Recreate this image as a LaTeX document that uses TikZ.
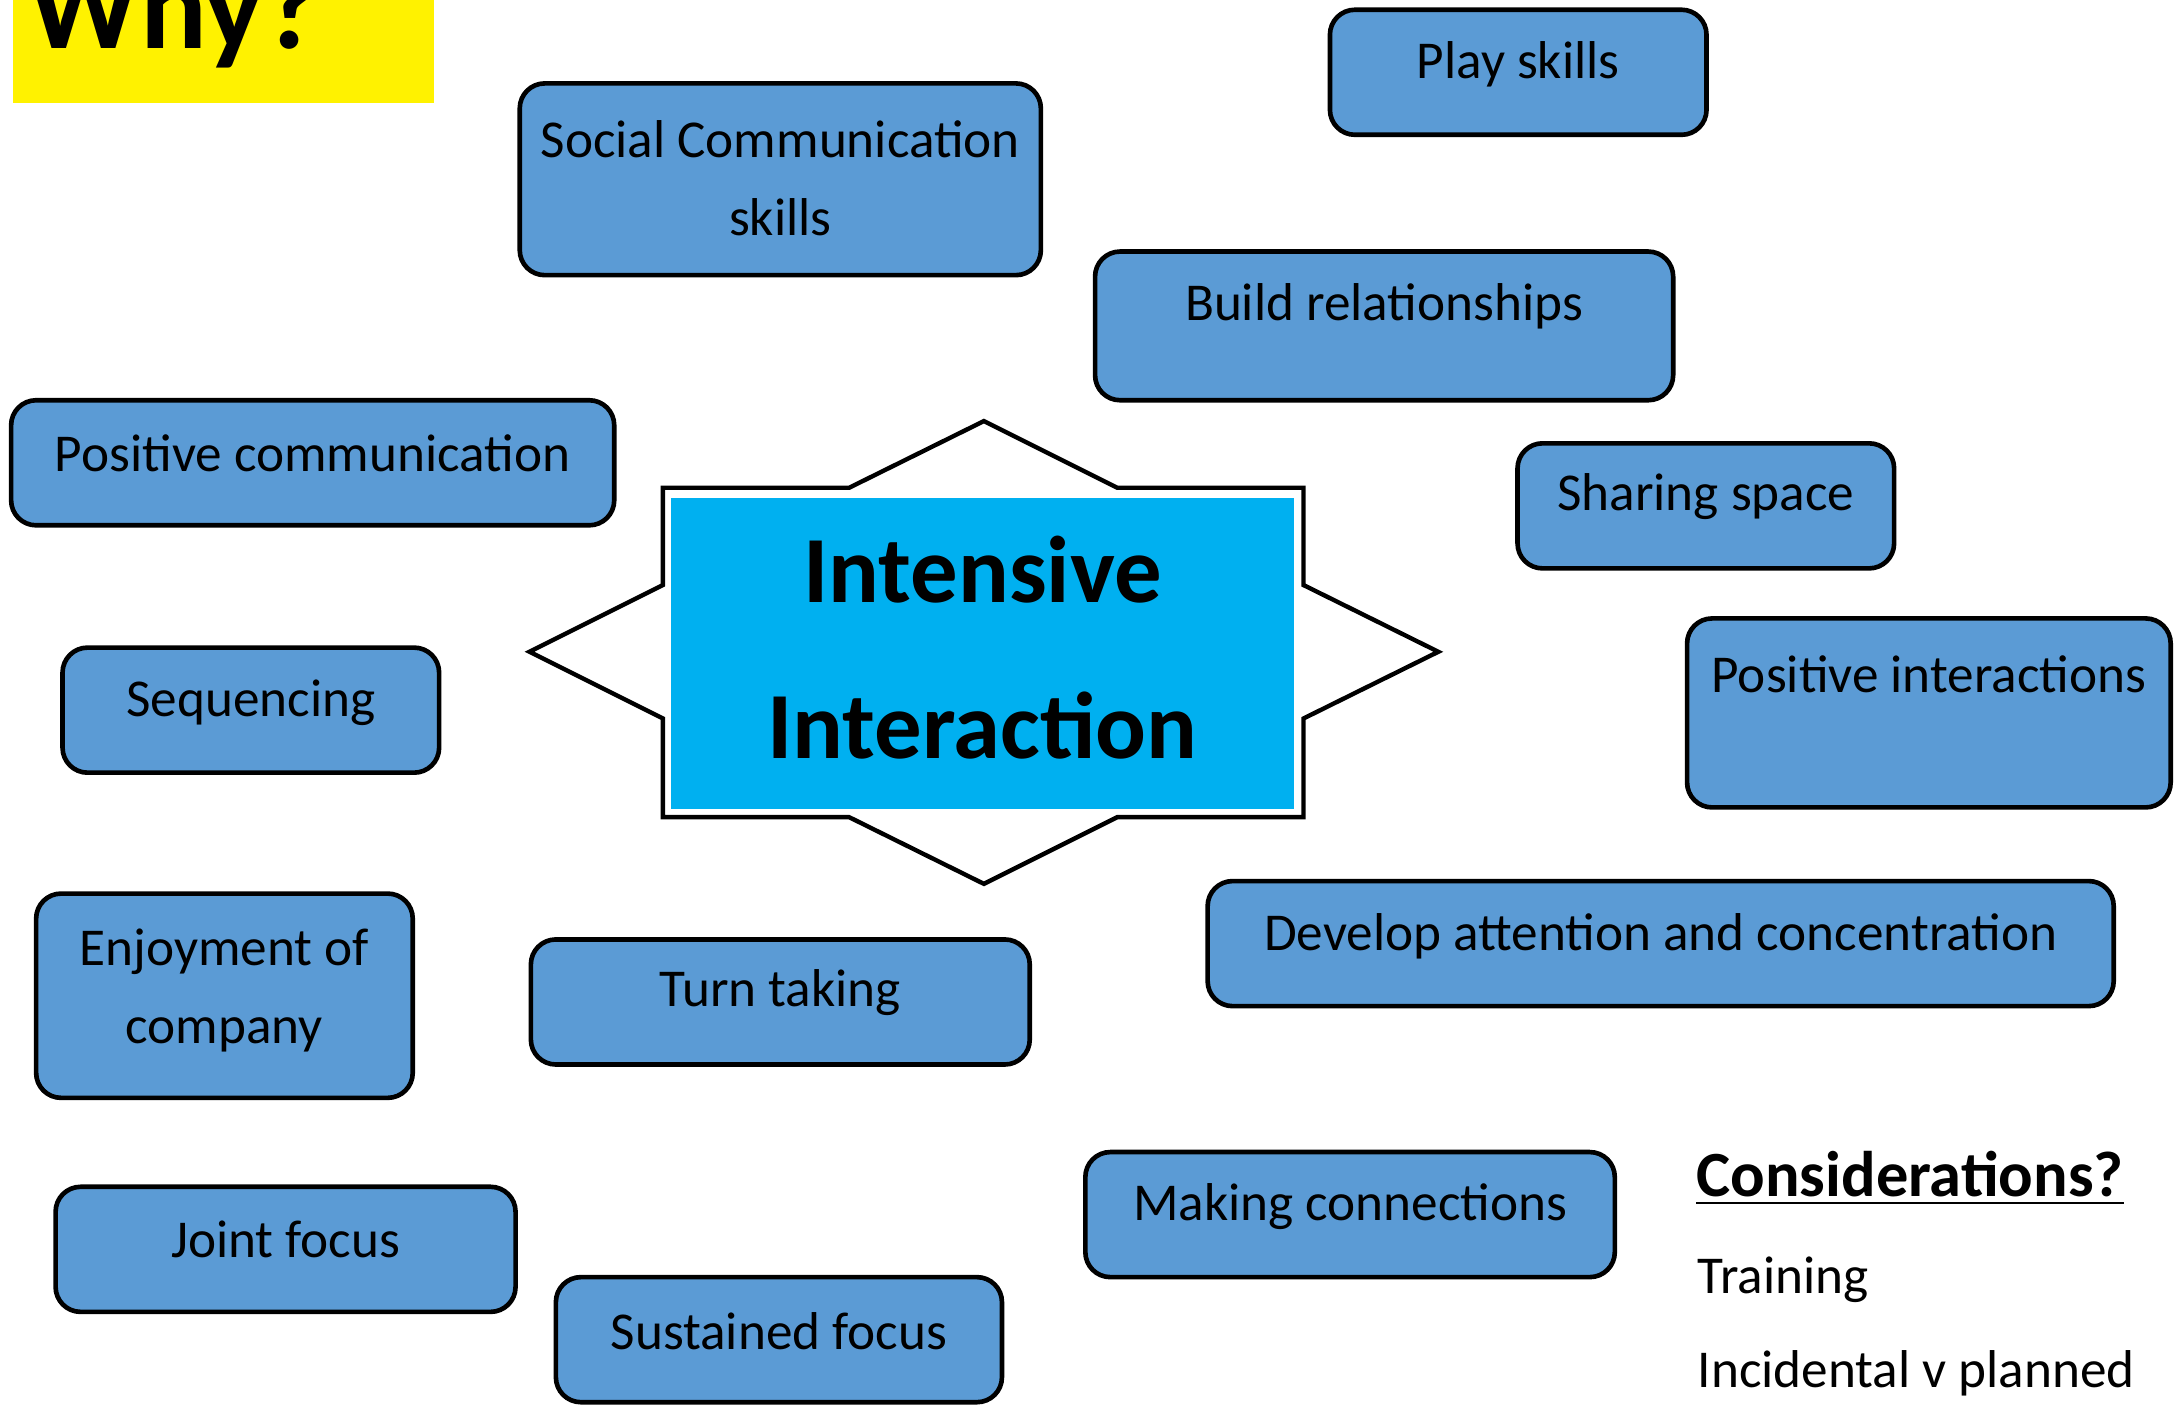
\documentclass[tikz,border=0pt]{standalone}
\usepackage{fontspec}
\setmainfont{Carlito}
\definecolor{boxblue}{HTML}{5B9BD5}
\definecolor{starblue}{HTML}{00B0F0}
\tikzset{
	topic/.style={draw=black, line width=0.95pt, fill=boxblue, rounded corners=0.18cm},
	topictext/.style={font=\fontsize{10.9}{15.9}\selectfont, align=center},
	notetext/.style={font=\fontsize{10.9}{12}\selectfont, anchor=west, inner sep=0pt},
}

\begin{document}
\begin{tikzpicture}
	\useasboundingbox (0,0) rectangle (15.68,-10.125);
	% heading
	\fill[yellow] (0.09,0) rectangle (3.12,-0.74);
	\node[font=\fontsize{25.5}{26}\bfseries\selectfont, anchor=base west, inner sep=0pt] (why) at (0.19,-0.35) {Why?};
	% centre star
	\draw[line width=0.9pt, fill=white] (3.81,-4.69) -- (4.77,-4.21) -- (4.77,-3.51) -- (6.11,-3.51)
		-- (7.08,-3.03) -- (8.04,-3.51) -- (9.38,-3.51) -- (9.38,-4.21) -- (10.35,-4.69)
		-- (9.38,-5.17) -- (9.38,-5.88) -- (8.04,-5.88) -- (7.08,-6.36) -- (6.11,-5.88)
		-- (4.77,-5.88) -- (4.77,-5.17) -- cycle;
	\fill[starblue] (4.83,-3.58) rectangle (9.31,-5.82);
	\node[font=\fontsize{19.4}{32}\bfseries\selectfont, align=center] (intensive) at (7.07,-4.66) {Intensive\\Interaction};
	% boxes round the star
	\draw[topic] (3.74,-0.60) rectangle (7.49,-1.98);
	\node[topictext] (social) at (5.615,-1.28) {Social Communication\\skills};
	\draw[topic] (9.57,-0.07) rectangle (12.28,-0.97);
	\node[topictext] (play) at (10.925,-0.465) {Play skills};
	\draw[topic] (7.88,-1.81) rectangle (12.04,-2.88);
	\node[topictext] (build) at (9.96,-2.205) {Build relationships};
	\draw[topic] (0.08,-2.88) rectangle (4.42,-3.78);
	\node[topictext] (poscomm) at (2.25,-3.265) {Positive communication};
	\draw[topic] (10.92,-3.19) rectangle (13.63,-4.09);
	\node[topictext] (sharing) at (12.275,-3.575) {Sharing space};
	\draw[topic] (12.14,-4.45) rectangle (15.62,-5.81);
	\node[topictext] (posint) at (13.88,-4.855) {Positive interactions};
	\draw[topic] (0.45,-4.66) rectangle (3.16,-5.56);
	\node[topictext] (sequencing) at (1.805,-5.055) {Sequencing};
	\draw[topic] (0.26,-6.43) rectangle (2.97,-7.90);
	\node[topictext] (enjoyment) at (1.615,-7.125) {Enjoyment of\\company};
	\draw[topic] (3.82,-6.76) rectangle (7.41,-7.66);
	\node[topictext] (turn) at (5.615,-7.145) {Turn taking};
	\draw[topic] (8.69,-6.34) rectangle (15.21,-7.24);
	\node[topictext] (attention) at (11.95,-6.735) {Develop attention and concentration};
	\draw[topic] (0.40,-8.54) rectangle (3.71,-9.44);
	\node[topictext] (joint) at (2.055,-8.92) {Joint focus};
	\draw[topic] (4.00,-9.19) rectangle (7.21,-10.09);
	\node[topictext] (sustained) at (5.605,-9.58) {Sustained focus};
	\draw[topic] (7.81,-8.29) rectangle (11.62,-9.19);
	\node[topictext] (connections) at (9.715,-8.685) {Making connections};
	% considerations
	\node[notetext, font=\fontsize{13.2}{14}\bfseries\selectfont] (considerations) at (12.20,-8.48) {\underline{Considerations?}};
	\node[notetext] (training) at (12.21,-9.21) {Training};
	\node[notetext] (incidental) at (12.21,-9.88) {Incidental v planned};
\end{tikzpicture}
\end{document}
